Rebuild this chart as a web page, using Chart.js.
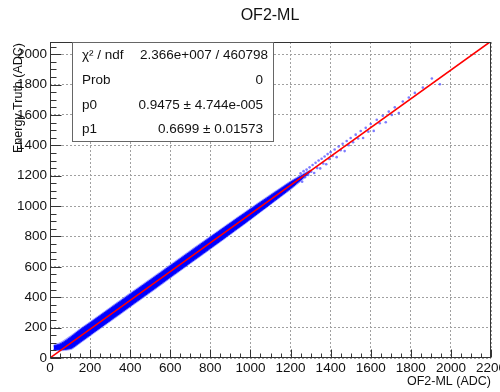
<!DOCTYPE html>
<html>
<head>
<meta charset="utf-8">
<script src="https://cdn.jsdelivr.net/npm/chart.js@4/dist/chart.umd.min.js"></script>
<style>
  body{margin:0;background:#fff;}
  #wrap{width:500px;height:392px;}
</style>
</head>
<body>
<div id="wrap"><canvas id="fitChart" width="500" height="392"></canvas></div>
<script>
// fit results
const p0 = 0.9475, p0Err = "4.744e-005";
const p1 = 0.6699, p1Err = "0.01573";
const chi2 = "2.366e+007", ndf = "460798";

// axis ranges / ticks
const xMin = 0, xMax = 2200, yMin = 0, yMax = 2080;
const majorStep = 200, minorStep = 50;

// envelope of the dense scatter band (x, outer/inner edges)
const bandX   = [18, 50, 80, 110, 150, 200, 300, 400, 500, 600, 700, 800, 900, 1000, 1100, 1200, 1260, 1300];
const outerHi = [88, 102, 127, 154, 194, 240, 334, 429, 522, 616, 710, 803, 896, 988, 1078, 1166, 1212, 1240];
const outerLo = [50, 48, 50, 58, 96, 143, 238, 333, 428, 524, 620, 715, 811, 908, 1008, 1107, 1172, 1222];
const innerHi = [80, 92, 116, 145, 186, 232, 326, 420, 513, 607, 701, 795, 888, 980, 1070, 1158, 1204, 1234];
const innerLo = [56, 54, 57, 66, 103, 151, 246, 341, 436, 532, 627, 722, 818, 915, 1014, 1115, 1182, 1228];

// sparse events above ~1250 ADC
const sparseX = [1250,1258,1265,1272,1280,1288,1295,1303,1310,1318,1325,1333,1340,1348,1355,1363,1370,1378,1385,1393,
                 1400,1410,1420,1430,1440,1450,1460,1470,1480,1490,1500,1512,1525,1537,1550,1562,1575,1588,1600,1615,
                 1630,1645,1660,1675,1690,1705,1720,1740,1760,1790,1820,1860,1905,1945];
const sparseY = [1215,1160,1230,1190,1240,1205,1255,1226,1270,1218,1285,1250,1300,1248,1312,1280,1326,1275,1342,1310,
                 1355,1330,1372,1322,1392,1368,1410,1362,1428,1400,1448,1420,1470,1445,1494,1448,1515,1490,1540,1495,
                 1568,1545,1595,1552,1622,1600,1650,1612,1688,1715,1745,1780,1840,1802];

const fitX = [xMin, xMax];

const FONT = "'Liberation Sans', Arial, Helvetica, sans-serif";

function pts(xs, ys){ return xs.map((v,i)=>({x:v, y:ys[i]})); }

const frame = {
  id:'frame',
  afterDatasetsDraw(chart){
    const {ctx, chartArea:a, scales:{x,y}} = chart;
    const L = Math.round(a.left)+0.5, R = Math.round(a.right)-0.5;
    const T = Math.round(a.top)+0.5, B = Math.round(a.bottom)-0.5;
    ctx.save();

    // frame
    ctx.strokeStyle = '#333';
    ctx.lineWidth = 1;
    ctx.strokeRect(L, T, R-L, B-T);

    // ticks inside the frame
    ctx.beginPath();
    for(let v=xMin; v<=xMax; v+=minorStep){
      const px = Math.round(x.getPixelForValue(v))+0.5;
      const len = v % majorStep === 0 ? 8 : 4;
      ctx.moveTo(px, B); ctx.lineTo(px, B-len);
    }
    for(let v=yMin; v<=yMax; v+=minorStep){
      const py = Math.round(y.getPixelForValue(v))+0.5;
      const len = v % majorStep === 0 ? 11 : 6;
      ctx.moveTo(L, py); ctx.lineTo(L+len, py);
    }
    ctx.stroke();

    // stats box
    const bx = 72.5, by = T, bw = 201, bh = 99;
    ctx.fillStyle = '#fff';
    ctx.fillRect(bx, by, bw, bh);
    ctx.strokeStyle = '#666';
    ctx.strokeRect(bx, by, bw, bh);

    ctx.fillStyle = '#111';
    ctx.textBaseline = 'middle';
    const rows = [
      ['\u03C7\u00B2 / ndf', chi2 + ' / ' + ndf, 55],
      ['Prob', '0', 80],
      ['p0', p0.toFixed(4) + ' \u00B1 ' + p0Err, 105],
      ['p1', p1.toFixed(4) + ' \u00B1 ' + p1Err, 129]
    ];
    rows.forEach((r,i)=>{
      ctx.font = '13.5px ' + FONT;
      ctx.textAlign = 'left';
      ctx.fillText(r[0], 82, r[2]);
      ctx.textAlign = 'right';
      ctx.fillText(r[1], i === 0 ? 268 : 263, r[2]);
    });

    // title and axis titles
    ctx.font = '16px ' + FONT;
    ctx.textAlign = 'center';
    ctx.fillText('OF2-ML', 270, 16);

    ctx.font = '12.5px ' + FONT;
    ctx.textAlign = 'right';
    ctx.fillText('OF2-ML (ADC)', a.right, 382);

    ctx.translate(19, a.top + 1);
    ctx.rotate(-Math.PI/2);
    ctx.textAlign = 'right';
    ctx.fillText('Energy Truth (ADC)', 0, 0);

    ctx.restore();
  }
};

const tickFont = {family: FONT, size: 13.5};
const plain = v => String(v);

new Chart(document.getElementById('fitChart'), {
  type: 'line',
  data: {
    datasets: [
      // lower order is painted on top
      {order: 0, data: fitX.map(v => ({x: v, y: p0 * v + p1})), borderColor: '#ff0000', borderWidth: 1.6, pointRadius: 0, fill: false},
      {order: 1, data: pts(sparseX, sparseY), showLine: false, pointRadius: 1.3, pointBorderWidth: 0, pointBackgroundColor: 'rgba(70,70,255,0.7)'},
      {order: 2, data: pts(bandX, innerHi), fill: '+1', backgroundColor: '#0000ff', borderColor: '#1010ff', borderWidth: 1, pointRadius: 0, tension: 0.2},
      {order: 3, data: pts(bandX, innerLo), fill: false, borderColor: '#1010ff', borderWidth: 1, pointRadius: 0, tension: 0.2},
      {order: 4, data: pts(bandX, outerHi), fill: '+1', backgroundColor: 'rgba(60,60,255,0.45)', borderColor: 'rgba(120,120,255,0.4)', borderWidth: 1, pointRadius: 0, tension: 0.2},
      {order: 5, data: pts(bandX, outerLo), fill: false, borderColor: 'rgba(120,120,255,0.4)', borderWidth: 1, pointRadius: 0, tension: 0.2}
    ]
  },
  options: {
    responsive: false,
    animation: false,
    layout: {padding: {top: 42, right: 9, left: 0, bottom: 0}},
    plugins: {legend: {display: false}, tooltip: {enabled: false}},
    scales: {
      x: {
        type: 'linear', min: xMin, max: xMax,
        afterFit(s){ s.height = 34; s.paddingLeft = 0; s.paddingRight = 0; },
        ticks: {stepSize: majorStep, includeBounds: false, padding: 2, color: '#111', font: tickFont, maxRotation: 0, autoSkip: false, callback: plain},
        grid: {color: '#a0a0a0', lineWidth: 1, drawTicks: false},
        border: {display: false, dash: [2, 2]}
      },
      y: {
        type: 'linear', min: yMin, max: yMax,
        afterFit(s){ s.width = 50; s.paddingTop = 0; s.paddingBottom = 0; },
        ticks: {stepSize: majorStep, includeBounds: false, padding: 3, color: '#111', font: tickFont, autoSkip: false, callback: plain},
        grid: {color: '#a0a0a0', lineWidth: 1, drawTicks: false},
        border: {display: false, dash: [2, 2]}
      }
    }
  },
  plugins: [frame]
});
</script>
</body>
</html>
